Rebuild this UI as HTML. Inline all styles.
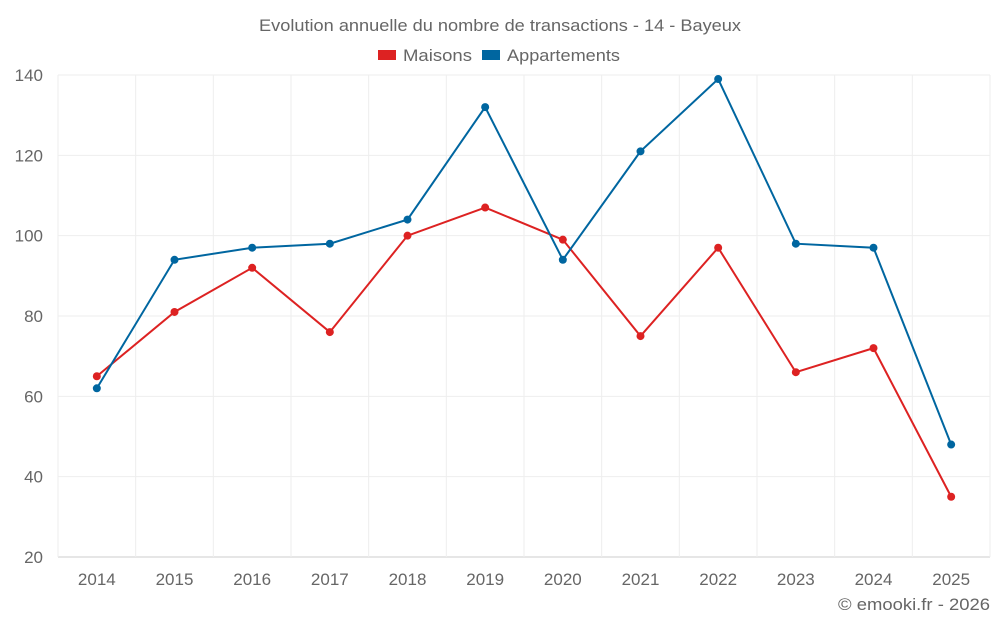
<!DOCTYPE html>
<html><head><meta charset="utf-8">
<style>
body{margin:0;background:#fff;font-family:"Liberation Sans",sans-serif;}
svg text{font-family:"Liberation Sans",sans-serif;}
</style></head>
<body>
<svg id="chart" width="1000" height="625" xmlns="http://www.w3.org/2000/svg">
<text x="259" y="31" font-size="17" fill="#666" textLength="482" lengthAdjust="spacingAndGlyphs">Evolution annuelle du nombre de transactions - 14 - Bayeux</text>
<g><rect x="378" y="50" width="18" height="10" fill="#dd2222"/><text x="403" y="61" font-size="17" fill="#666" textLength="69" lengthAdjust="spacingAndGlyphs">Maisons</text></g>
<g><rect x="482" y="50" width="18" height="10" fill="#0066a0"/><text x="507" y="61" font-size="17" fill="#666" textLength="113" lengthAdjust="spacingAndGlyphs">Appartements</text></g>
<g id="grid"></g><g id="axes"></g><g id="series"></g>
<text x="838" y="610" font-size="17" fill="#666" textLength="152" lengthAdjust="spacingAndGlyphs">© emooki.fr - 2026</text>
</svg>
<script>
const categories=["2014","2015","2016","2017","2018","2019","2020","2021","2022","2023","2024","2025"];
const maisons=[65,81,92,76,100,107,99,75,97,66,72,35];
const appartements=[62,94,97,98,104,132,94,121,139,98,97,48];
const yTicks=[20,40,60,80,100,120,140];
const NS="http://www.w3.org/2000/svg";
const L=58,R=990,T=75,B=557,yMin=20,yMax=140;
const band=(R-L)/categories.length;
function x(i){return L+band*(i+0.5);}
function y(v){return B-(v-yMin)/(yMax-yMin)*(B-T);}
function mk(tag,attrs,parent){const e=document.createElementNS(NS,tag);for(const k in attrs)e.setAttribute(k,attrs[k]);document.getElementById(parent).appendChild(e);return e;}
yTicks.forEach(v=>{
 const g=mk("line",{x1:L,x2:R,y1:y(v),y2:y(v),stroke:v===yMin?"#ccc":"#eee"},"grid");
 
 
 const t=mk("text",{x:L-15,y:y(v)+6,"text-anchor":"end","font-size":17,fill:"#666"},"axes");
 t.textContent=v;
 
 
});
for(let i=0;i<=categories.length;i++){
 const g=mk("line",{x1:L+band*i,x2:L+band*i,y1:T,y2:B,stroke:"#eee"},"grid");
 
 
}
categories.forEach((c,i)=>{
 const t=mk("text",{x:x(i),y:585,"text-anchor":"middle","font-size":17,fill:"#666"},"axes");
 t.textContent=c;
 
 
});
function drawSeries(data,color,name){
 const p=mk("polyline",{points:data.map((v,i)=>x(i)+","+y(v)).join(" "),fill:"none",stroke:color,"stroke-width":2},"series");
 
 
 data.forEach((v,i)=>{
  const c=mk("circle",{cx:x(i),cy:y(v),r:4,fill:color},"series");
  
  
 });
}
drawSeries(maisons,"#dd2222","maisons");
drawSeries(appartements,"#0066a0","appartements");
</script>
</body></html>
